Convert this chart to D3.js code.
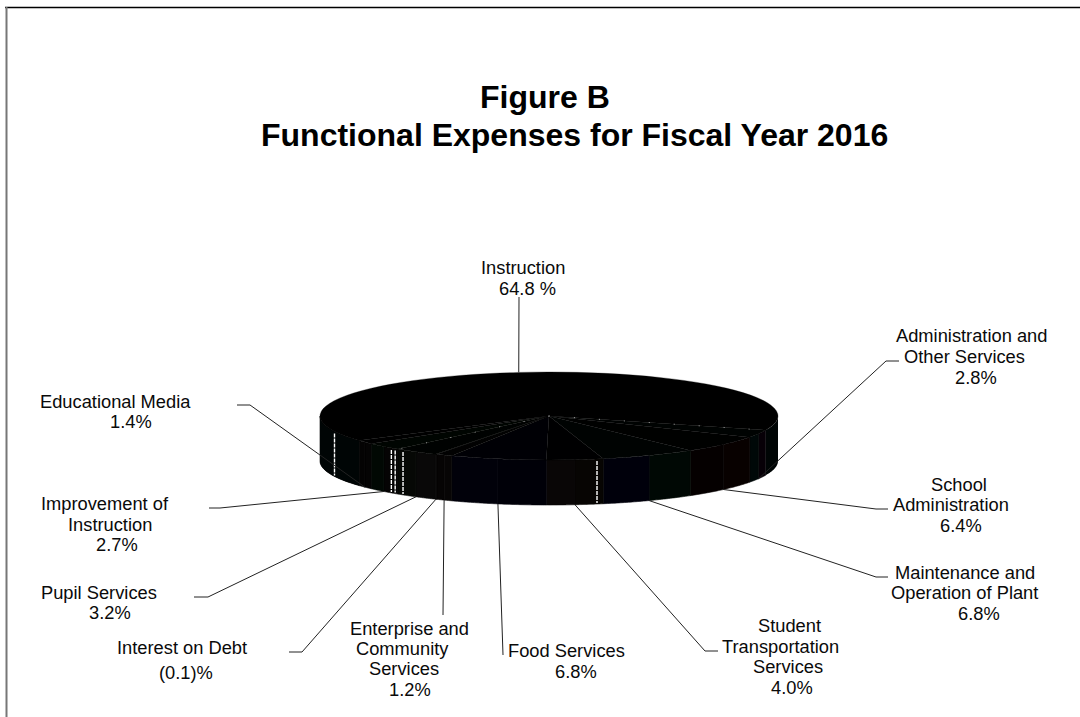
<!DOCTYPE html>
<html>
<head>
<meta charset="utf-8">
<title>Figure B</title>
<script src="https://cdn.jsdelivr.net/npm/d3@7/dist/d3.min.js"></script>
<style>
  html, body { margin: 0; padding: 0; background: #fff; }
  svg { display: block; }
  text { font-family: "Liberation Sans", Arial, sans-serif; fill: #0a0a0a; }
</style>
</head>
<body>
<svg id="chart" width="1080" height="717"></svg>
<script>
// Figures as published for fiscal year 2016
const titleLines = ["Figure B", "Functional Expenses for Fiscal Year 2016"];
const categories = [
  "Instruction", "Administration and Other Services", "School Administration",
  "Maintenance and Operation of Plant", "Student Transportation Services",
  "Food Services", "Enterprise and Community Services", "Interest on Debt",
  "Pupil Services", "Improvement of Instruction", "Educational Media"
];
const values = [64.8, 2.8, 6.4, 6.8, 4.0, 6.8, 1.2, -0.1, 3.2, 2.7, 1.4];
const nameLines = [
  ["Instruction"],
  ["Administration and", "Other Services"],
  ["School", "Administration"],
  ["Maintenance and", "Operation of Plant"],
  ["Student", "Transportation", "Services"],
  ["Food Services"],
  ["Enterprise and", "Community", "Services"],
  ["Interest on Debt"],
  ["Pupil Services"],
  ["Improvement of", "Instruction"],
  ["Educational Media"]
];

// Percent text: negatives in parentheses, the lead category with a spaced sign
const percentText = (v, i) =>
  v < 0 ? `(${Math.abs(v).toFixed(1)})%` : v.toFixed(1) + (i === 0 ? " %" : "%");

// Hand placement of each label: [x, baseline] per line, percent last
const labelPlacement = [
  [[481, 274], [499, 295]],
  [[896, 342], [904, 363], [955, 384]],
  [[931, 491], [893, 511], [940, 532]],
  [[895, 579], [891, 599], [958, 620]],
  [[758, 632], [722, 653], [753, 673], [771, 694]],
  [[508, 657], [555, 678]],
  [[350, 635], [356, 655], [369, 675], [389, 696]],
  [[117, 654], [159, 679]],
  [[41, 599], [89, 619]],
  [[41, 510], [68, 531], [96, 551]],
  [[40, 408], [110, 428]]
];
// Leader routing: outer end, then optional elbow, then the rim of the slice
const leaderRoute = [
  [[519, 297]],
  [[899, 361], [886, 361]],
  [[888, 509], [876, 509]],
  [[888, 577], [876, 577]],
  [[718, 651], [705, 651]],
  [[503, 655]],
  [[443, 615]],
  [[289, 652], [302, 652]],
  [[194, 597], [208, 597]],
  [[209, 508], [220, 508]],
  [[237, 405], [250, 405]]
];

// Near-black slice tints: top face, then the two wall bands
const topTints = ["#000000", "#000302", "#000100", "#000302", "#000001", "#000005", "#020202", "#020202", "#000201", "#000501", "#000000"];
const wallTints = [
  ["#000000", "#000000"], ["#070007", "#000808"], ["#080100", "#050000"],
  ["#000804", "#00000b"], ["#070503", "#090606"], ["#000008", "#01010a"],
  ["#070505", "#060404"], ["#070505", "#070505"], ["#090808", "#060805"],
  ["#050404", "#010803"], ["#050404", "#040303"]
];
// Light seams showing through the wall, degrees clockwise from twelve o'clock
const seamDegrees = [249.5, 223.5, 222.2, 219.6, 167.9];
// Slice boundaries on the top face that catch small light flecks
const fleckedEdges = [1, 9];

const cx = 549, cy = 416, rx = 229, ry = 44, depth = 45;
const svg = d3.select("#chart");

// Page frame: dark rule across the top, grey rule down the left
svg.append("line").attr("x1", 5).attr("x2", 1080).attr("y1", 7.5).attr("y2", 7.5)
  .attr("stroke", "#000").attr("stroke-width", 1.4);
svg.append("line").attr("x1", 6.5).attr("x2", 6.5).attr("y1", 7).attr("y2", 717)
  .attr("stroke", "#777").attr("stroke-width", 2);

svg.append("g").selectAll("text").data(titleLines).join("text")
  .attr("x", (d, i) => i ? 261 : 480)
  .attr("y", (d, i) => i ? 146 : 108)
  .attr("font-size", 32).attr("font-weight", 700).style("fill", "#000")
  .text(d => d);

const start = 236 * Math.PI / 180;
const pie = d3.pie().value(d => Math.abs(d)).sort(null)
  .startAngle(start).endAngle(start + 2 * Math.PI);
const slices = pie(values);

// Elliptical projection of an angle measured clockwise from the top
const px = a => cx + rx * Math.sin(a);
const py = a => cy - ry * Math.cos(a);
const rimPoint = a => [px(a), py(a) + (Math.cos(a) < 0 ? depth : 0)];

// Wall of the cylinder: only the part facing the viewer
const wallPath = (a0, a1) => {
  const lo = Math.max(a0, Math.PI / 2), hi = Math.min(a1, 1.5 * Math.PI);
  if (hi <= lo) return null;
  const steps = d3.range(0, 25).map(i => lo + (hi - lo) * i / 24);
  const pts = steps.map(a => [px(a), py(a)])
    .concat(steps.slice().reverse().map(a => [px(a), py(a) + depth]));
  return d3.line()(pts) + "Z";
};

const wall = svg.append("g");
slices.forEach(s => {
  // Fold angles into one turn so the wall test works for the wrapped slices
  const k = s.startAngle >= 2 * Math.PI ? 2 * Math.PI : 0;
  const a0 = s.startAngle - k, a1 = s.endAngle - k, mid = (a0 + a1) / 2;
  [[a0, mid], [mid, a1]].forEach(([b0, b1], j) => {
    const d = wallPath(b0, b1);
    if (d) wall.append("path").attr("d", d)
      .attr("fill", wallTints[s.index][j])
      .attr("stroke", wallTints[s.index][j]).attr("stroke-width", 0.6);
  });
});
// Instruction's end of the wall reaches the left and right extremes of the disc
[[Math.PI / 2, slices[0].endAngle - 2 * Math.PI], [slices[0].startAngle, 1.5 * Math.PI]].forEach(([a, b]) => {
  const d = wallPath(a, b);
  if (d) wall.append("path").attr("d", d).attr("fill", "#000505");
});

seamDegrees.forEach(deg => {
  const a = deg * Math.PI / 180, top = py(a), x = px(a);
  svg.append("line").attr("x1", x).attr("x2", x).attr("y1", top + 2).attr("y2", top + depth - 1)
    .attr("stroke", "#fff").attr("stroke-width", 1.4).attr("stroke-dasharray", "4 1");
});

// Top face drawn with d3.arc inside a squashed coordinate system
const arc = d3.arc().innerRadius(0).outerRadius(rx);
svg.append("g")
  .attr("transform", `translate(${cx},${cy}) scale(1,${ry / rx})`)
  .selectAll("path").data(slices).join("path")
  .attr("d", arc)
  .attr("fill", d => topTints[d.index])
  .attr("stroke", d => topTints[d.index]).attr("stroke-width", 0.5);

// Flecks along a few slice boundaries
fleckedEdges.forEach(i => {
  const a = slices[i].startAngle;
  svg.append("line").attr("x1", cx).attr("y1", cy).attr("x2", px(a)).attr("y2", py(a))
    .attr("stroke", "#fff").attr("stroke-width", 1).attr("stroke-opacity", 0.6)
    .attr("stroke-dasharray", "1 24");
});

// Leaders run from the label to the rim at each slice's mid angle
const leaders = svg.append("g").attr("fill", "none").attr("stroke", "#222").attr("stroke-width", 1);
slices.forEach(s => {
  const rim = rimPoint((s.startAngle + s.endAngle) / 2);
  leaders.append("path").attr("d", d3.line()(leaderRoute[s.index].concat([rim])));
});

// Labels: name lines followed by the percent
const labels = svg.append("g").attr("font-size", 18.3);
categories.forEach((name, i) => {
  const lines = nameLines[i].concat([percentText(values[i], i)]);
  lines.forEach((t, j) => {
    labels.append("text")
      .attr("x", labelPlacement[i][j][0]).attr("y", labelPlacement[i][j][1]).text(t);
  });
});
</script>
</body>
</html>
